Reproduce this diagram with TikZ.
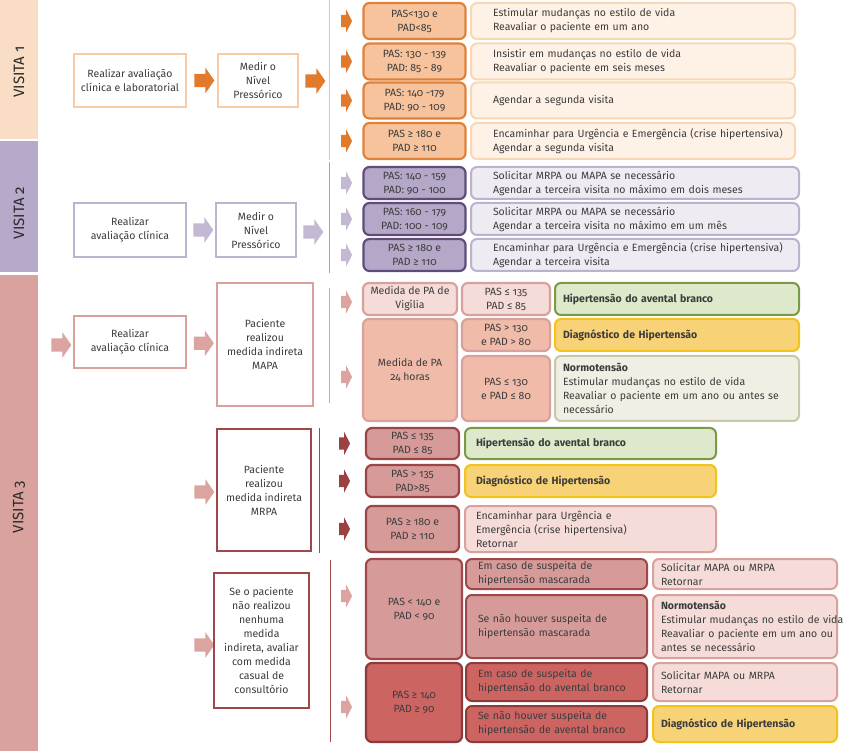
\documentclass[tikz,border=0pt]{standalone}
\usepackage{fontspec}
\setmainfont{Fira Sans}[Numbers=OldStyle]
\usepackage{tikz}
\usetikzlibrary{shapes,arrows,positioning,calc}

\definecolor{txt}{HTML}{3C3C3C}
\definecolor{titletxt}{HTML}{2B2B2B}
\definecolor{band1}{HTML}{F9DDC4}
\definecolor{band2}{HTML}{B6A9C9}
\definecolor{band3}{HTML}{D9A29E}
\definecolor{v1line}{HTML}{F7CDA8}
\definecolor{v1arrow}{HTML}{E27A2D}
\definecolor{v1fill}{HTML}{F6C39C}
\definecolor{v1draw}{HTML}{E0813A}
\definecolor{v1act}{HTML}{FEF2E6}
\definecolor{v1actline}{HTML}{F8D7B6}
\definecolor{v1sep}{HTML}{E8C4A2}
\definecolor{v2line}{HTML}{BEB3CE}
\definecolor{v2arrow}{HTML}{C4B9D3}
\definecolor{v2fill}{HTML}{B4A7C7}
\definecolor{v2draw}{HTML}{5F4C79}
\definecolor{v2act}{HTML}{EEEBF2}
\definecolor{v2actline}{HTML}{BDB2CD}
\definecolor{v2sep}{HTML}{A9A9A9}
\definecolor{v3line}{HTML}{D9A19C}
\definecolor{v3arrow}{HTML}{DBA4A0}
\definecolor{v3light}{HTML}{F5DCD8}
\definecolor{v3salmon}{HTML}{F1BBAA}
\definecolor{v3dark}{HTML}{A04749}
\definecolor{v3darkarrow}{HTML}{9B4142}
\definecolor{v3mid}{HTML}{D69B99}
\definecolor{v3middraw}{HTML}{9C4547}
\definecolor{v3deep}{HTML}{CC6462}
\definecolor{v3deepdraw}{HTML}{8E3A3A}
\definecolor{greenfill}{HTML}{DEE8CB}
\definecolor{greendraw}{HTML}{7A9A48}
\definecolor{yellowfill}{HTML}{F7D277}
\definecolor{yellowdraw}{HTML}{F2C318}
\definecolor{normofill}{HTML}{EFEFE3}
\definecolor{normodraw}{HTML}{C8C7AA}

\tikzset{
    resgreen/.style={fill=greenfill, draw=greendraw},
    resyellow/.style={fill=yellowfill, draw=yellowdraw},
    respink/.style={fill=v3light, draw=v3line},
    resnormo/.style={fill=normofill, draw=normodraw},
}

\begin{document}
\begin{tikzpicture}[x=1pt, y=-1pt,
    every node/.style={font=\fontsize{10.5}{14}\selectfont, text=txt},
    outline/.style={draw, line width=2.5pt, fill=white, align=center, inner sep=2pt},
    cond/.style={draw, line width=2.2pt, rounded corners=6pt, align=center, inner sep=1pt},
    act/.style={draw, line width=2pt, rounded corners=6pt, align=left, inner ysep=1pt},
    bigarrow/.style={single arrow, single arrow tip angle=110, single arrow head extend=6pt,
        minimum height=20pt, inner xsep=0pt, inner ysep=6.5pt},
    smallarrow/.style={single arrow, single arrow tip angle=125, single arrow head extend=5.5pt,
        minimum height=11pt, inner xsep=0pt, inner ysep=6pt},
    title/.style={rotate=90, font=\fontsize{15}{15}\selectfont, text=titletxt}
]
\useasboundingbox (0,0) rectangle (844,751);

% Visit bands (left)
\fill[band1] (0,0) rectangle (38,139);
\fill[band2] (0,141) rectangle (38,272);
\fill[band3] (0,275) rectangle (38,751);
\node[title] (t1) at (19,72) {VISITA 1};
\node[title] (t2) at (19,213) {VISITA 2};
\node[title] (t3) at (19,507) {VISITA 3};

% Visita 1
\node[outline, draw=v1line, minimum width=112pt, minimum height=53pt] (v1aval) at (130,80.5) {Realizar avaliação\\clínica e laboratorial};
\node[outline, draw=v1line, minimum width=80pt, minimum height=53pt] (v1med) at (258,80.5) {Medir o\\Nível\\Pressórico};
\node[bigarrow, fill=v1arrow] (v1a0) at ($(v1aval.east)!0.5!(v1med.west)$) {};
\node[bigarrow, fill=v1arrow] (v1a1) at (313,81) {};
\draw[v1sep] (329,0) -- (329,160);

\foreach \i/\yc/\cond/\act in {
    1/21/{PAS<130 e\\PAD<85}/{Estimular mudanças no estilo de vida\\Reavaliar o paciente em um ano},
    2/61.5/{PAS: 130 - 139\\PAD: 85 - 89}/{Insistir em mudanças no estilo de vida\\Reavaliar o paciente em seis meses},
    3/100.5/{PAS: 140 -179\\PAD: 90 - 109}/{Agendar a segunda visita},
    4/141/{PAS ≥ 180 e\\PAD ≥ 110}/{\makebox[\linewidth][l]{Encaminhar para Urgência e Emergência (crise hipertensiva)}\\Agendar a segunda visita}} {
    \node[smallarrow, fill=v1arrow] (v1s\i) at (345,\yc) {};
    \node[cond, fill=v1fill, draw=v1draw, minimum width=102pt, minimum height=36pt] (v1c\i) at (414.5,\yc) {\cond};
    \node[act, fill=v1act, draw=v1actline, text width=280pt, inner xsep=22pt, minimum height=36pt] (v1r\i) at (633,\yc) {\act};
}

% Visita 2
\node[outline, draw=v2line, minimum width=112pt, minimum height=54pt] (v2aval) at (130,230) {Realizar\\avaliação clínica};
\node[outline, draw=v2line, minimum width=80pt, minimum height=54pt] (v2med) at (256,230) {Medir o\\Nível\\Pressórico};
\node[bigarrow, fill=v2arrow] (v2a0) at ($(v2aval.east)!0.5!(v2med.west)$) {};
\node[bigarrow, fill=v2arrow] (v2a1) at (311,232) {};
\draw[v2sep] (329,162) -- (329,273);

\foreach \i/\yc/\cond/\act in {
    1/183/{PAS: 140 - 159\\PAD: 90 - 100}/{Solicitar MRPA ou MAPA se necessário\\Agendar a terceira visita no máximo em dois meses},
    2/219/{PAS: 160 - 179\\PAD: 100 - 109}/{Solicitar MRPA ou MAPA se necessário\\Agendar a terceira visita no máximo em um mês},
    3/255/{PAS ≥ 180 e\\PAD ≥ 110}/{\makebox[\linewidth][l]{Encaminhar para Urgência e Emergência (crise hipertensiva)}\\Agendar a terceira visita}} {
    \node[smallarrow, fill=v2arrow] (v2s\i) at (345,\yc) {};
    \node[cond, fill=v2fill, draw=v2draw, minimum width=102pt, minimum height=32pt] (v2c\i) at (414.5,\yc) {\cond};
    \node[act, fill=v2act, draw=v2actline, text width=284pt, inner xsep=22pt, minimum height=32pt] (v2r\i) at (635,\yc) {\act};
}

% Visita 3: MAPA
\node[bigarrow, fill=v3arrow] (v3a0) at (59,345) {};
\node[outline, draw=v3line, minimum width=112pt, minimum height=52pt] (v3aval) at (130,342) {Realizar\\avaliação clínica};
\node[outline, draw=v3line, minimum width=96pt, minimum height=123pt] (v3mapa) at (265,344.5) {Paciente\\realizou\\medida indireta\\MAPA};
\node[bigarrow, fill=v3arrow] (v3a1) at ($(v3aval.east)!0.5!(v3mapa.west)$) {};
\draw[v3line] (329,288) -- (329,403);
\node[smallarrow, fill=v3arrow] (v3s1) at (345,302) {};
\node[smallarrow, fill=v3arrow] (v3s2) at (345,377) {};

\node[cond, fill=v3light, draw=v3line, minimum width=94pt, minimum height=32pt] (v3vig) at (410,299) {Medida de PA de\\Vigília};
\node[cond, fill=v3salmon, draw=v3line, minimum width=94pt, minimum height=102pt] (v3h24) at (410,370) {Medida de PA\\24 horas};
\foreach \i/\yc/\hh/\col/\cond/\sty/\act in {
    1/299/32/v3light/{PAS ≤ 135\\PAD ≤ 85}/resgreen/{\bfseries Hipertensão do avental branco},
    2/335/32/v3salmon/{PAS > 130\\e PAD > 80}/resyellow/{\bfseries Diagnóstico de Hipertensão},
    3/388.5/65/v3salmon/{PAS ≤ 130\\e PAD ≤ 80}/resnormo/{{\bfseries Normotensão}\\Estimular mudanças no estilo de vida\\Reavaliar o paciente em um ano ou antes se\\necessário}} {
    \node[cond, fill=\col, draw=v3line, minimum width=88pt, minimum height=\hh pt] (v3m\i) at (506,\yc) {\cond};
    \node[act, \sty, text width=228pt, inner xsep=8pt, minimum height=\hh pt] (v3r\i) at (677,\yc) {\act};
}

% Visita 3: MRPA
\node[bigarrow, fill=v3arrow] (v3a2) at (202,492) {};
\node[outline, draw=v3dark, minimum width=94pt, minimum height=122pt] (v3mrpa) at (264,490) {Paciente\\realizou\\medida indireta\\MRPA};
\draw[v3dark] (319,428) -- (319,553);
\foreach \i/\yc/\hh/\cond/\sty/\act in {
    1/443.5/31/{PAS ≤ 135\\PAD ≤ 85}/resgreen/{\bfseries Hipertensão do avental branco},
    2/481/32/{PAS > 135\\PAD>85}/resyellow/{\bfseries Diagnóstico de Hipertensão},
    3/529/46/{PAS ≥ 180 e\\PAD ≥ 110}/respink/{Encaminhar para Urgência e\\Emergência (crise hipertensiva)\\Retornar}} {
    \node[smallarrow, fill=v3darkarrow] (v3t\i) at (343,\yc) {};
    \node[cond, fill=v3mid, draw=v3middraw, minimum width=93pt, minimum height=\hh pt] (v3p\i) at (412.5,\yc) {\cond};
    \node[act, \sty, text width=229pt, inner xsep=11pt, minimum height=\hh pt] (v3q\i) at (590.5,\yc) {\act};
}

% Visita 3: medida casual
\node[bigarrow, fill=v3arrow] (v3a3) at (202,645) {};
\node[outline, draw=v3dark, minimum width=95pt, minimum height=135pt] (v3casual) at (261.5,640.5) {Se o paciente\\não realizou\\nenhuma\\medida\\indireta, avaliar\\com  medida\\casual de\\consultório};
\draw[v3dark] (330,560) -- (330,742);
\node[smallarrow, fill=v3arrow] (v3u1) at (345,596) {};
\node[smallarrow, fill=v3arrow] (v3u2) at (345,707) {};
\node[cond, fill=v3mid, draw=v3dark, minimum width=96pt, minimum height=100pt] (v3k1) at (414,609) {PAS < 140 e\\PAD < 90};
\node[cond, fill=v3deep, draw=v3deepdraw, minimum width=96pt, minimum height=79pt] (v3k2) at (414,702.5) {PAS ≥ 140\\PAD ≥ 90};

\foreach \i/\yc/\hh/\col/\dcol/\mtxt/\sty/\act in {
    1/574/30/v3mid/v3dark/{Em caso de suspeita de\\hipertensão mascarada}/respink/{Solicitar MAPA ou MRPA\\Retornar},
    2/626.5/63/v3mid/v3dark/{Se não houver  suspeita de\\hipertensão mascarada}/respink/{{\bfseries Normotensão}\\\makebox[\linewidth][l]{Estimular mudanças no estilo de vida}\\\makebox[\linewidth][l]{Reavaliar o paciente em um ano ou}\\antes se necessário},
    3/682/38/v3deep/v3deepdraw/{Em caso de suspeita de\\hipertensão  do avental branco}/respink/{Solicitar MAPA ou MRPA\\Retornar},
    4/724/36/v3deep/v3deepdraw/{Se não houver  suspeita de\\hipertensão de avental branco}/resyellow/{\bfseries Diagnóstico de Hipertensão}} {
    \node[act, fill=\col, draw=\dcol, text width=157pt, inner xsep=12pt, minimum height=\hh pt] (v3w\i) at (556.5,\yc) {\mtxt};
    \node[act, \sty, text width=168pt, inner xsep=8pt, minimum height=\hh pt] (v3z\i) at (745,\yc) {\act};
}
\end{tikzpicture}
\end{document}
